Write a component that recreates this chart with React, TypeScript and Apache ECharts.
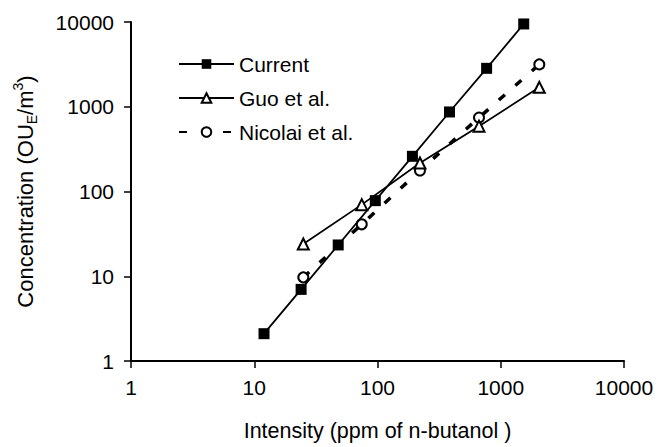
import React, { useEffect, useRef } from "react";
import * as echarts from "echarts";

const FONT = '"Liberation Sans", Arial, Helvetica, sans-serif';

const xTicks = [1, 10, 100, 1000, 10000];
const yTicks = [1, 10, 100, 1000, 10000];

const currentX = [12, 24, 48, 96, 192, 384, 768, 1536];
const currentY = [2.1, 7.0, 23.4, 78, 260, 868, 2840, 9480];

const guoX = [25, 74.5, 221, 666, 2055];
const guoY = [24, 70, 217, 590, 1695];

const nicolaiX = [25, 74.5, 221, 666, 2055];
const nicolaiY = [9.7, 41, 177, 745, 3160];

const seriesNames = ["Current", "Guo et al.", "Nicolai et al."];

const xTitle = "Intensity (ppm of n-butanol )";

const pairs = (xs: number[], ys: number[]) => xs.map((x, i) => [x, ys[i]]);

export default function App() {
  const ref = useRef<HTMLDivElement>(null);
  useEffect(() => {
    if (!ref.current) return;
    const chart = echarts.init(ref.current, undefined, { renderer: "svg" });
    const labelFmt = (v: number) => String(Math.round(v));
    const axisCommon = {
      type: "log",
      logBase: 10,
      splitLine: { show: false },
      minorTick: { show: false },
      axisLine: { show: true, onZero: false, lineStyle: { color: "#000", width: 2 } },
      axisTick: { show: true, inside: false, length: 7, lineStyle: { color: "#000", width: 1.5 } },
    };
    chart.setOption({
      animation: false,
      backgroundColor: "#fff",
      grid: { left: 131, right: 36, top: 22, bottom: 81 },
      legend: {
        orient: "vertical",
        left: 173,
        top: 48,
        itemWidth: 55,
        itemHeight: 12,
        itemGap: 12,
        data: seriesNames,
        textStyle: { color: "#000", fontSize: 21, fontFamily: FONT, lineHeight: 22 },
      },
      xAxis: {
        ...axisCommon,
        min: xTicks[0],
        max: xTicks[xTicks.length - 1],
        axisLabel: { color: "#000", fontSize: 21, fontFamily: FONT, margin: 16, formatter: labelFmt },
        name: xTitle,
        nameLocation: "middle",
        nameGap: 59,
        nameTextStyle: { color: "#000", fontSize: 21.5, fontFamily: FONT },
      },
      yAxis: {
        ...axisCommon,
        min: yTicks[0],
        max: yTicks[yTicks.length - 1],
        axisLabel: { color: "#000", fontSize: 21, fontFamily: FONT, margin: 17, formatter: labelFmt },
        name: "{a|Concentration (OU}{sub|E}{a|/m}{sup|3}{a|)}",
        nameLocation: "middle",
        nameGap: 92,
        nameTextStyle: {
          color: "#000",
          fontSize: 22,
          fontFamily: FONT,
          rich: {
            a: { color: "#000", fontSize: 22, fontFamily: FONT, lineHeight: 28 },
            sub: { color: "#000", fontSize: 14, fontFamily: FONT, lineHeight: 14, verticalAlign: "bottom" },
            sup: { color: "#000", fontSize: 14, fontFamily: FONT, lineHeight: 14, verticalAlign: "top" },
          },
        },
      },
      series: [
        {
          name: seriesNames[0],
          type: "line",
          data: pairs(currentX, currentY),
          symbol: "rect",
          symbolSize: 11,
          lineStyle: { color: "#000", width: 1.8 },
          itemStyle: { color: "#000" },
          z: 4,
        },
        {
          name: seriesNames[1],
          type: "line",
          data: pairs(guoX, guoY),
          symbol: "emptyTriangle",
          symbolSize: 11,
          lineStyle: { color: "#000", width: 1.8 },
          itemStyle: { color: "#000", borderColor: "#000", borderWidth: 1.5 },
          z: 3,
        },
        {
          name: seriesNames[2],
          type: "line",
          data: pairs(nicolaiX, nicolaiY),
          symbol: "emptyCircle",
          symbolSize: 10,
          lineStyle: { color: "#000", width: 3.5, type: [8, 14] },
          itemStyle: { color: "#000", borderColor: "#000", borderWidth: 1.5 },
          z: 2,
        },
      ],
    });
    return () => chart.dispose();
  }, []);
  return (
    <div
      ref={ref}
      style={{ position: "fixed", left: 0, top: 0, width: 660, height: 447, background: "#fff" }}
    />
  );
}
